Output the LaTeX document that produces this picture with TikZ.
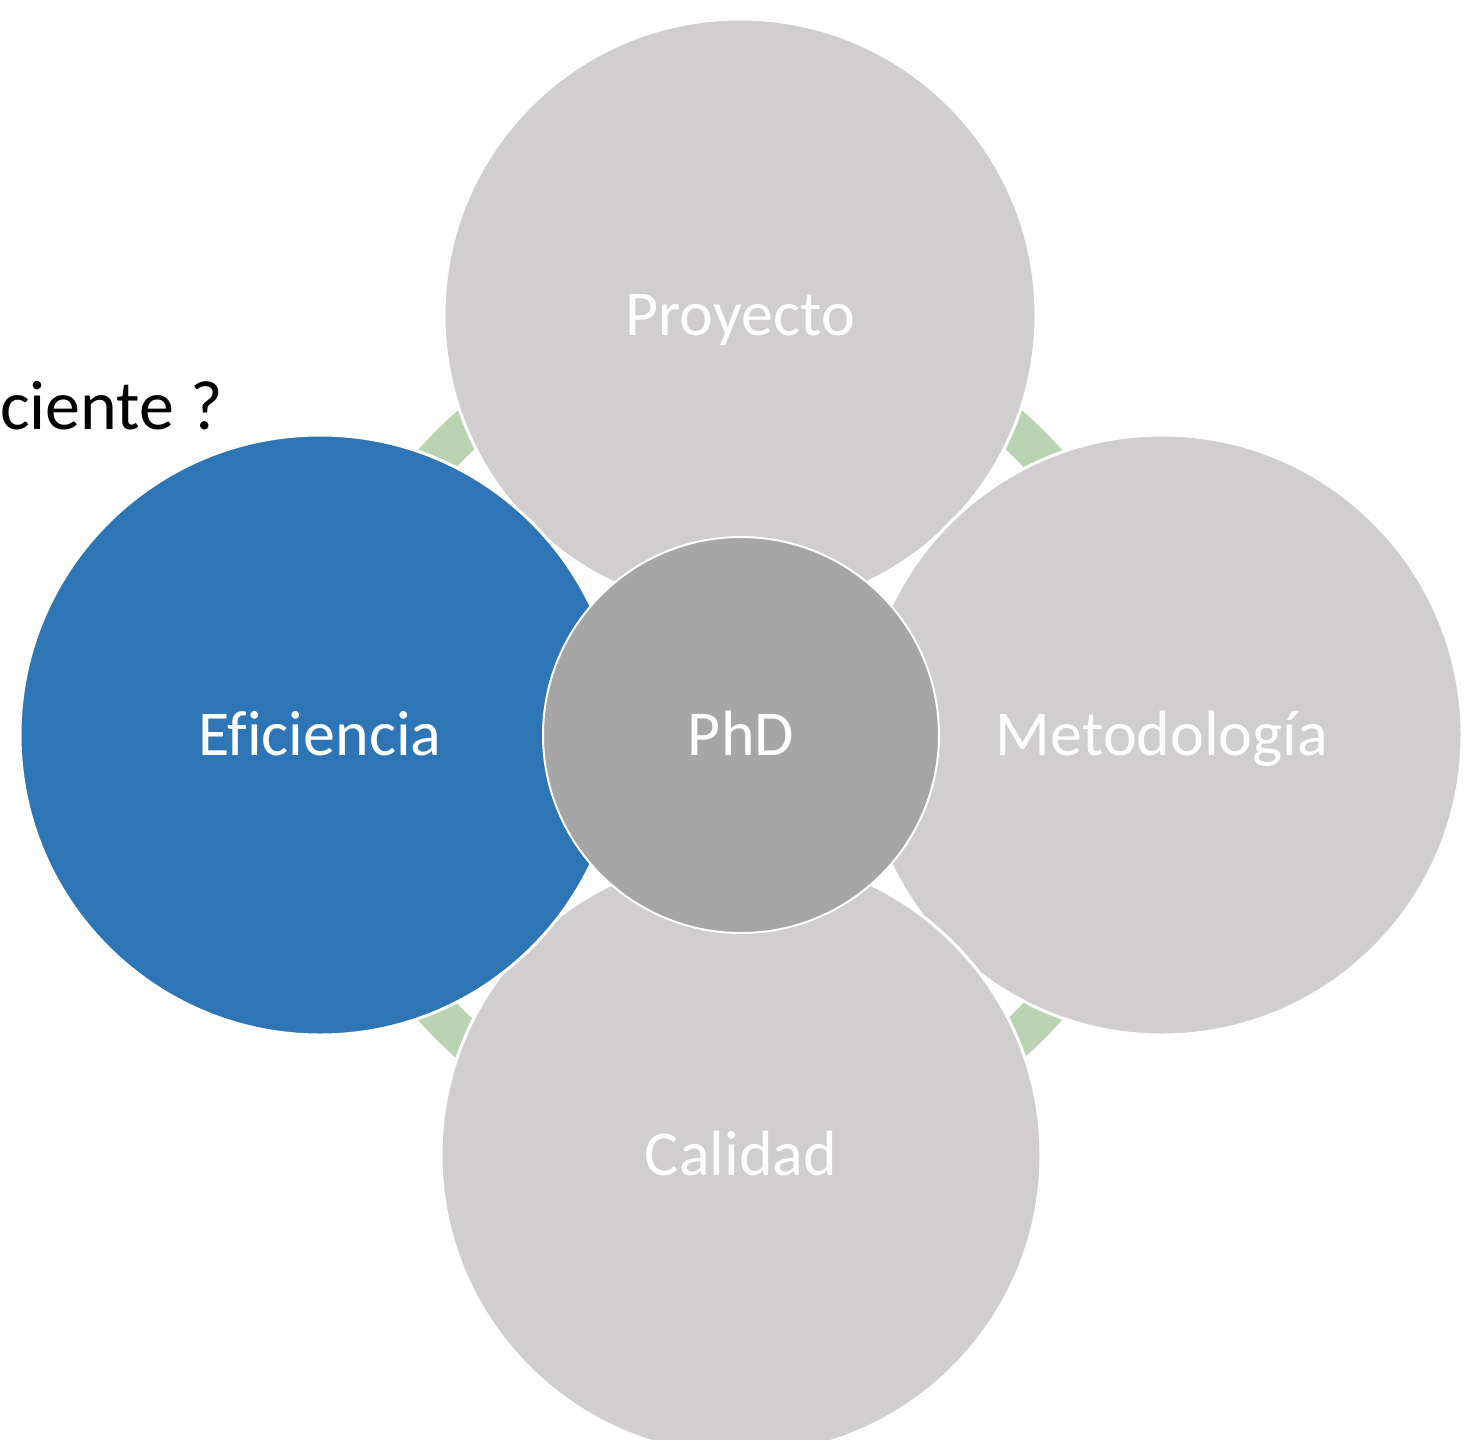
\documentclass[tikz,border=0pt]{standalone}
\usepackage{fontspec}
\setmainfont[Ligatures=NoCommon]{Carlito}
\definecolor{satgray}{RGB}{208,206,207}
\definecolor{hubgray}{RGB}{166,166,166}
\definecolor{accentblue}{RGB}{46,117,182}
\definecolor{ringgreen}{RGB}{186,211,179}
\begin{document}
\begin{tikzpicture}[x=1pt,y=-1pt,
  bubble/.style={circle, draw=white, line width=3pt, inner sep=0pt,
    text=white, font=\fontsize{64}{72}\selectfont,
    text height=41pt, text depth=0pt},
  satellite/.style={bubble, fill=satgray, minimum size=600pt},
  hub/.style={bubble, fill=hubgray, line width=2pt, minimum size=396pt}]
\useasboundingbox (0,0) rectangle (1468,1440);
\clip (0,0) rectangle (1468,1440);

% green ring linking the outer circles
\coordinate (c) at (740,735);
\fill[ringgreen, even odd rule] (c) circle (430pt) (c) circle (390pt);

% outer circles
\node[satellite, minimum size=592pt] (proyecto) at (740,315) {Proyecto};
\node[satellite] (metodologia) at (1162,735) {Metodología};
\node[satellite] (calidad) at (741,1155) {Calidad};
\node[satellite, fill=accentblue] (eficiencia) at (320,735) {Eficiencia};

% central circle
\node[hub] (phd) at (741,735) {PhD};

% partial heading at the left edge
\node[anchor=base west, inner sep=0pt, font=\fontsize{70}{78}\selectfont]
  (pregunta) at (0,429) {ciente ?};
\end{tikzpicture}
\end{document}
